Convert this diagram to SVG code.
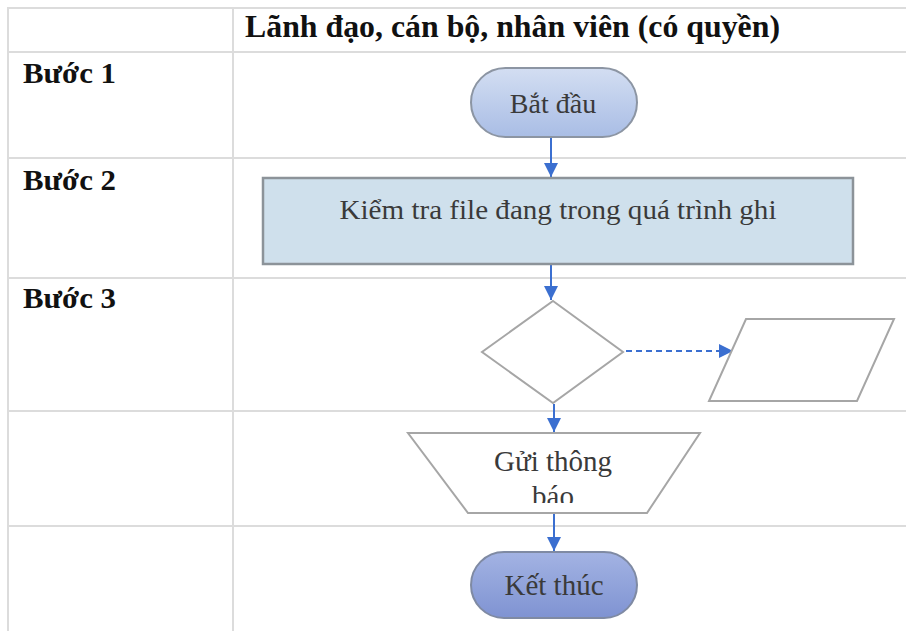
<svg xmlns="http://www.w3.org/2000/svg" width="906" height="631" viewBox="0 0 906 631">
<defs>
<linearGradient id="gStart" x1="0" y1="0" x2="0" y2="1"><stop offset="0" stop-color="#d3def2"/><stop offset="1" stop-color="#a9bde5"/></linearGradient>
<linearGradient id="gEnd" x1="0" y1="0" x2="0" y2="1"><stop offset="0" stop-color="#a3b3e3"/><stop offset="1" stop-color="#7f93d2"/></linearGradient>
<marker id="ah" viewBox="0 0 10 10" refX="10" refY="5" markerWidth="7" markerHeight="7" orient="auto" markerUnits="strokeWidth"><path d="M0,0 L10,5 L0,10 Z" fill="#3b6fd0"/></marker>
<clipPath id="trapClip"><rect x="408" y="433" width="292" height="70"/></clipPath>
</defs>
<style>
.grid{stroke:#dcdcdc;stroke-width:2;fill:none}
.lbl{font-family:"Liberation Serif","Times New Roman",serif;font-weight:bold;fill:#111}
.node{font-family:"Liberation Serif","Times New Roman",serif;fill:#3a3a3a;text-anchor:middle}
.shape{fill:#fff;stroke:#a6a6a6;stroke-width:2}
.conn{stroke:#3b6fd0;stroke-width:2;fill:none}
</style>
<rect width="906" height="631" fill="#fff"/>
<g id="grid">
<path class="grid" d="M906,8 H8 V631 M8,52 H906 M8,158 H906 M8,278 H906 M8,411 H906 M8,526 H906 M233,8 V631"/>
</g>
<g id="labels">
<text class="lbl" x="245" y="37" font-size="32" textLength="535" lengthAdjust="spacingAndGlyphs">Lãnh đạo, cán bộ, nhân viên (có quyền)</text>
<text class="lbl" x="23" y="83" font-size="30" textLength="93" lengthAdjust="spacingAndGlyphs">Bước 1</text>
<text class="lbl" x="23" y="190" font-size="30" textLength="93" lengthAdjust="spacingAndGlyphs">Bước 2</text>
<text class="lbl" x="23" y="308" font-size="30" textLength="93" lengthAdjust="spacingAndGlyphs">Bước 3</text>
</g>
<g id="connectors">
<line class="conn" x1="551" y1="138" x2="551" y2="177" marker-end="url(#ah)"/>
<line class="conn" x1="551" y1="265" x2="551" y2="300" marker-end="url(#ah)"/>
<line class="conn" x1="626" y1="351" x2="733" y2="351" stroke-dasharray="6,4" marker-end="url(#ah)"/>
<line class="conn" x1="554" y1="404" x2="554" y2="432" marker-end="url(#ah)"/>
<line class="conn" x1="554" y1="514" x2="554" y2="551" marker-end="url(#ah)"/>
</g>
<g id="start">
<rect x="471" y="68" width="166" height="69" rx="34.5" fill="url(#gStart)" stroke="#8c95a3" stroke-width="2"/>
<text class="node" x="553" y="113" font-size="28">Bắt đầu</text>
</g>
<g id="check">
<rect x="263" y="178" width="590" height="86" fill="#cfe0ec" stroke="#8c9399" stroke-width="2.5"/>
<text class="node" x="558" y="219" font-size="27" fill="#444" textLength="437" lengthAdjust="spacingAndGlyphs">Kiểm tra file đang trong quá trình ghi</text>
</g>
<g id="decision">
<polygon class="shape" points="553,301 623,352 553,403 482,352"/>
</g>
<g id="io">
<polygon class="shape" points="746,319 894,319 857,401 709,401"/>
</g>
<g id="notify">
<polygon class="shape" points="408,433 700,433 647,513 468,513"/>
<text class="node" x="553" y="471" font-size="29">Gửi thông</text>
<text class="node" x="553" y="506" font-size="29" clip-path="url(#trapClip)">báo</text>
</g>
<g id="end">
<rect x="471" y="552" width="166" height="66" rx="33" fill="url(#gEnd)" stroke="#7f8aa3" stroke-width="2"/>
<text class="node" x="554" y="595" font-size="29" fill="#222">Kết thúc</text>
</g>
</svg>
